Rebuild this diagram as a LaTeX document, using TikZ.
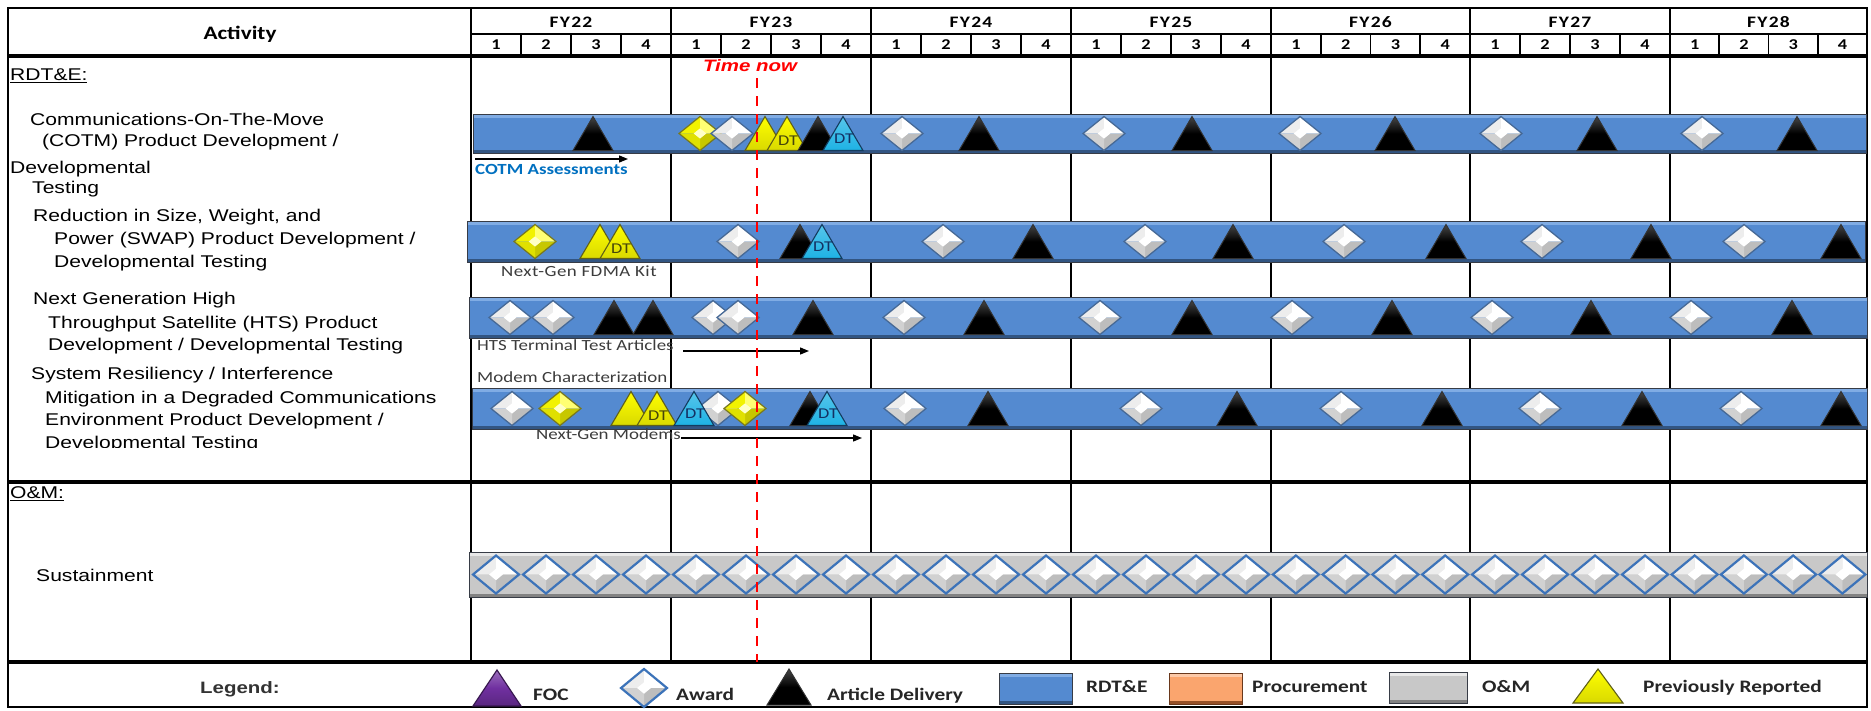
\documentclass[tikz,border=0pt]{standalone}
\usepackage{fontspec}
\setmainfont{Liberation Sans}[FakeStretch=1.24]
\newfontfamily\calfont{Carlito}[FakeStretch=1.22]
\usetikzlibrary{arrows.meta}

\definecolor{barblue}{RGB}{84,138,208}
\definecolor{barhi}{RGB}{128,172,228}
\definecolor{barlo}{RGB}{50,85,130}
\definecolor{barline}{RGB}{55,60,70}
\definecolor{omgray}{RGB}{200,200,200}
\definecolor{omhi}{RGB}{232,232,232}
\definecolor{omlo}{RGB}{130,130,130}
\definecolor{diaedge}{RGB}{70,105,150}
\definecolor{susedge}{RGB}{60,115,185}
\definecolor{dtcyan}{RGB}{30,178,228}
\definecolor{dtcyanedge}{RGB}{20,60,95}
\definecolor{yel}{RGB}{255,255,0}
\definecolor{yeledge}{RGB}{120,120,30}
\definecolor{dtyel}{RGB}{70,70,10}
\definecolor{dtblue}{RGB}{20,50,100}
\definecolor{focpurple}{RGB}{112,48,160}
\definecolor{procorange}{RGB}{250,165,110}
\definecolor{procedge}{RGB}{150,80,40}
\definecolor{labelgray}{RGB}{60,60,60}
\definecolor{cotmblue}{RGB}{0,112,192}

% faceted (bevelled) diamond: x, y, half width, half height, TL, TR, BR, BL colours, edge style
\newcommand{\MkFDia}[9]{%
  \fill[#5] (#1,#2) -- (#1-#3,#2) -- (#1,#2-#4) -- cycle;
  \fill[#6] (#1,#2) -- (#1,#2-#4) -- (#1+#3,#2) -- cycle;
  \fill[#7] (#1,#2) -- (#1+#3,#2) -- (#1,#2+#4) -- cycle;
  \fill[#8] (#1,#2) -- (#1,#2+#4) -- (#1-#3,#2) -- cycle;
  \fill[white!60!#6] (#1-#3*0.3,#2) -- (#1,#2-#4*0.3) -- (#1+#3*0.3,#2) -- (#1,#2+#4*0.3) -- cycle;
  \draw[#9] (#1-#3,#2) -- (#1,#2-#4) -- (#1+#3,#2) -- (#1,#2+#4) -- cycle;}
\newcommand{\MkTri}[5]{\shadedraw[#5] (#1-#3,#2+#4) -- (#1,#2-#4) -- (#1+#3,#2+#4) -- cycle;}
\newcommand{\mWD}[2]{\MkFDia{#1}{#2}{21}{17}{gray!14}{white}{gray!52}{gray!36}{wedge}}
\newcommand{\mYD}[2]{\MkFDia{#1}{#2}{21}{17}{yel!95!black}{yel!55!white}{yel!78!black}{yel!88!black}{yedge}}
\newcommand{\mSD}[2]{\MkFDia{#1}{#2}{23}{19}{gray!14}{white}{gray!52}{gray!36}{sedge}}
\newcommand{\mBT}[2]{\MkTri{#1}{#2}{20}{17}{btri}}
\newcommand{\mYT}[2]{\MkTri{#1}{#2}{20}{17}{ytri}}
\newcommand{\mYDT}[2]{\MkTri{#1}{#2}{20}{17}{ytri}\node[dtl,text=dtyel] at (#1+1,#2+7) {DT};}
\newcommand{\mCDT}[2]{\MkTri{#1}{#2}{20}{17}{ctri}\node[dtl,text=dtblue] at (#1+1,#2+5) {DT};}
\newcommand{\mBar}[4]{%
  \fill[barblue] (#1,#2) rectangle (#3,#4);
  \fill[barhi] (#1,#2) rectangle (#3,#2+4);
  \fill[barlo] (#1,#4-3) rectangle (#3,#4);
  \draw[barline,line width=1] (#1,#2) rectangle (#3,#4);}

\tikzset{
  grid/.style={line width=1.6,black},
  thick grid/.style={line width=3.2,black},
  wedge/.style={draw=diaedge,line width=1.3,line join=miter},
  sedge/.style={draw=susedge,line width=2.2,line join=miter},
  yedge/.style={draw=yeledge,line width=1.2,line join=miter},
  btri/.style={top color=gray!55!black,bottom color=black,middle color=black,draw=gray!40!black,line width=1},
  ytri/.style={top color=yel,bottom color=yel!85!black,draw=yeledge!80!black,line width=1.1},
  ctri/.style={top color=dtcyan!75!white,bottom color=dtcyan,draw=dtcyanedge,line width=1.1},
  ptri/.style={top color=focpurple!70!white,bottom color=focpurple!80!black,middle color=focpurple,draw=focpurple!50!black,line width=1.2},
  dtl/.style={inner sep=0,font=\calfont\fontsize{15}{16}\selectfont},
  lab/.style={anchor=mid west,inner sep=0,font=\fontsize{17}{20}\selectfont},
  hdr/.style={inner sep=0,font=\calfont\bfseries\fontsize{16}{18}\selectfont},
  qlab/.style={inner sep=0,font=\calfont\bfseries\fontsize{15}{17}\selectfont},
  note/.style={anchor=mid west,inner sep=0,text=labelgray,font=\calfont\fontsize{15.5}{17}\selectfont},
  leg/.style={anchor=mid west,inner sep=0,text=black!85,font=\calfont\bfseries\fontsize{17.5}{19}\selectfont},
  arr/.style={-{Triangle[length=9pt,width=7pt]},line width=1.3,black},
}

\begin{document}
\begin{tikzpicture}[x=1pt,y=-1pt]
\useasboundingbox (0,0) rectangle (1871,710);
\fill[white] (0,0) rectangle (1871,710);

% ---------- grid ----------
\draw[grid] (471,8) -- (471,662);
\foreach \x in {671,871,1071,1271,1470,1670} \draw[grid] (\x,8) -- (\x,662);
\draw[grid] (471,34) -- (1867,34);
\foreach \s/\e/\fy in {471/671/FY22,671/871/FY23,871/1071/FY24,1071/1271/FY25,1271/1470/FY26,1470/1670/FY27,1670/1867/FY28}{
  \node[hdr] (h\fy) at ({(\s+\e)/2},22) {\addfontfeature{LetterSpace=8}\fy};
  \foreach \k in {1,2,3} \draw[grid] ({\s+\k*(\e-\s)/4},34) -- ({\s+\k*(\e-\s)/4},56);
  \foreach \k in {1,...,4} \node[qlab] (q\fy\k) at ({\s+(\k-0.5)*(\e-\s)/4},45) {\k};
}
\draw[thick grid] (8,56) -- (1867,56);
\draw[thick grid] (8,482) -- (1867,482);
\draw[thick grid] (8,662) -- (1867,662);
\draw[grid] (8,8) rectangle (1867,707);

\node[inner sep=0,font=\calfont\bfseries\fontsize{19}{21}\selectfont] (act) at (240,34) {Activity};

% ---------- activity labels ----------
\node[lab] (rdte) at (10,78) {\underline{RDT\&E:}};
\node[lab] (c1) at (30,123) {Communications-On-The-Move};
\node[lab] (c2) at (42,144) {(COTM) Product Development /};
\node[lab] (c3) at (10,171) {Developmental};
\node[lab] (c4) at (32,191) {Testing};
\node[lab] (s1) at (33,219) {Reduction in Size, Weight, and};
\node[lab] (s2) at (54,242) {Power (SWAP) Product Development /};
\node[lab] (s3) at (54,265) {Developmental Testing};
\node[lab] (t1) at (33,302) {Next Generation High};
\node[lab] (t2) at (48,326) {Throughput Satellite (HTS) Product};
\node[lab] (t3) at (48,348) {Development / Developmental Testing};
\node[lab] (r1) at (31,377) {System Resiliency / Interference};
\node[lab] (r2) at (45,401) {Mitigation in a Degraded Communications};
\node[lab] (r3) at (45,423) {Environment Product Development /};
\begin{scope}
  \clip (10,430) rectangle (470,447);
  \node[lab] (r4) at (45,446) {Developmental Testing};
\end{scope}
\node[lab] (om) at (10,496) {\underline{O\&M:}};
\node[lab] (sus) at (36,579) {Sustainment};

% ---------- bars ----------
\mBar{473}{114}{1866}{153}
\mBar{467}{221}{1865}{262}
\mBar{469}{297}{1867}{338}
\mBar{472}{388}{1867}{429}
\fill[omgray] (469,552) rectangle (1867,597);
\fill[omhi] (469,552) rectangle (1867,556);
\fill[omlo] (469,594) rectangle (1867,597);
\draw[barline,line width=1] (469,552) rectangle (1867,597);

% ---------- bar 1 : COTM ----------
\mBT{593}{133.5}
\mYD{700}{133.5}
\mWD{732}{133.5}
\mYT{765}{133.5}
\mYDT{787}{133.5}
\mBT{818}{133.5}
\mCDT{843}{133.5}
\mWD{902}{133.5} \mBT{979}{133.5}
\mWD{1104}{133.5} \mBT{1192}{133.5}
\mWD{1300}{133.5} \mBT{1395}{133.5}
\mWD{1501}{133.5} \mBT{1597}{133.5}
\mWD{1702}{133.5} \mBT{1797}{133.5}

% ---------- bar 2 : SWAP ----------
\mYD{535}{241.5}
\mYT{600}{241.5}
\mYDT{620}{241.5}
\mWD{738}{241.5}
\mBT{800}{241.5}
\mCDT{822}{241.5}
\mWD{943}{241.5} \mBT{1033}{241.5}
\mWD{1145}{241.5} \mBT{1233}{241.5}
\mWD{1344}{241.5} \mBT{1446}{241.5}
\mWD{1542}{241.5} \mBT{1651}{241.5}
\mWD{1744}{241.5} \mBT{1841}{241.5}

% ---------- bar 3 : HTS ----------
\mWD{510}{317.5} \mWD{553}{317.5}
\mBT{614}{317.5} \mBT{653}{317.5}
\mWD{713}{317.5} \mWD{738}{317.5}
\mBT{813}{317.5}
\mWD{904}{317.5} \mBT{984}{317.5}
\mWD{1100}{317.5} \mBT{1192}{317.5}
\mWD{1292}{317.5} \mBT{1392}{317.5}
\mWD{1492}{317.5} \mBT{1591}{317.5}
\mWD{1691}{317.5} \mBT{1792}{317.5}

% ---------- bar 4 : System Resiliency ----------
\mWD{512}{408.5}
\mYD{560}{408.5}
\mYT{631}{408.5}
\mYDT{657}{408.5}
\mWD{718}{408.5}
\mCDT{694}{408.5}
\mYD{745}{408.5}
\mBT{810}{408.5}
\mCDT{827}{408.5}
\mWD{905}{408.5} \mBT{988}{408.5}
\mWD{1141}{408.5} \mBT{1237}{408.5}
\mWD{1341}{408.5} \mBT{1442}{408.5}
\mWD{1540}{408.5} \mBT{1642}{408.5}
\mWD{1741}{408.5} \mBT{1841}{408.5}

% ---------- sustainment diamonds ----------
\foreach \s/\e in {471/671,671/871,871/1071,1071/1271,1271/1470,1470/1670,1670/1867}{
  \foreach \k in {0,1,2,3}{
    \pgfmathsetmacro\cx{\s+(\k+0.5)*(\e-\s)/4}
    \mSD{\cx}{574.5}
  }
}

% ---------- notes and arrows ----------
\node[anchor=mid west,inner sep=0,text=cotmblue,font=\calfont\bfseries\fontsize{15.5}{17}\selectfont] (cotm) at (475,172) {COTM Assessments};
\coordinate (cotmA) at (475,159);
\coordinate (cotmB) at (628,159);
\draw[arr] (cotmA) -- (cotmB);
\node[note] (fdma) at (501,274) {\addfontfeature{LetterSpace=3}Next-Gen FDMA Kit};
\node[note] (hts) at (477,348) {HTS Terminal Test Articles};
\coordinate (htsA) at (683,351);
\coordinate (htsB) at (809,351);
\draw[arr] (htsA) -- (htsB);
\node[note] (modc) at (477,380) {Modem Characterization};
\node[note] (ngm) at (536,437) {Next-Gen Modems};
\coordinate (ngmB) at (862,438);
\draw[arr] (ngm.east |- ngmB) -- (ngmB);

% ---------- time now ----------
\coordinate (tnTop) at (757,78);
\coordinate (tnBot) at (757,662);
\draw[red,line width=2.6,dash pattern=on 10pt off 8pt] (tnTop) -- (tnBot);
\node[inner sep=0,text=red,font=\bfseries\itshape\fontsize{16.5}{18}\selectfont] (tnow) at (750,66) {Time now};

% ---------- legend ----------
\node[inner sep=0,text=black!80,font=\bfseries\fontsize{16.5}{18}\selectfont] (legend) at (240,689) {Legend:};
\MkTri{497}{688}{24}{18}{ptri}
\node[leg] (lfoc) at (533,698) {FOC};
\mSD{644}{688}
\node[leg] (laward) at (676,698) {Award};
\MkTri{789}{687}{22}{18}{btri}
\node[leg] (lart) at (827,698) {Article Delivery};
\fill[barblue] (999,673) rectangle (1072,704);
\fill[barhi] (999,673) rectangle (1072,677);
\fill[barlo] (999,701) rectangle (1072,704);
\draw[barline,line width=1] (999,673) rectangle (1072,704);
\node[leg] (lrdte) at (1086,690) {RDT\&E};
\fill[procorange] (1169,673) rectangle (1242,704);
\fill[procorange!60!white] (1169,673) rectangle (1242,677);
\fill[procedge] (1169,701) rectangle (1242,704);
\draw[procedge!70!black,line width=1] (1169,673) rectangle (1242,704);
\node[leg] (lproc) at (1252,690) {Procurement};
\fill[omgray] (1389,672) rectangle (1467,703);
\fill[omhi] (1389,672) rectangle (1467,676);
\fill[omlo] (1389,700) rectangle (1467,703);
\draw[barline,line width=1] (1389,672) rectangle (1467,703);
\node[leg] (lom) at (1482,690) {O\&M};
\MkTri{1598}{686}{25}{17}{ytri}
\node[leg] (lprev) at (1643,690) {Previously Reported};
\end{tikzpicture}
\end{document}
